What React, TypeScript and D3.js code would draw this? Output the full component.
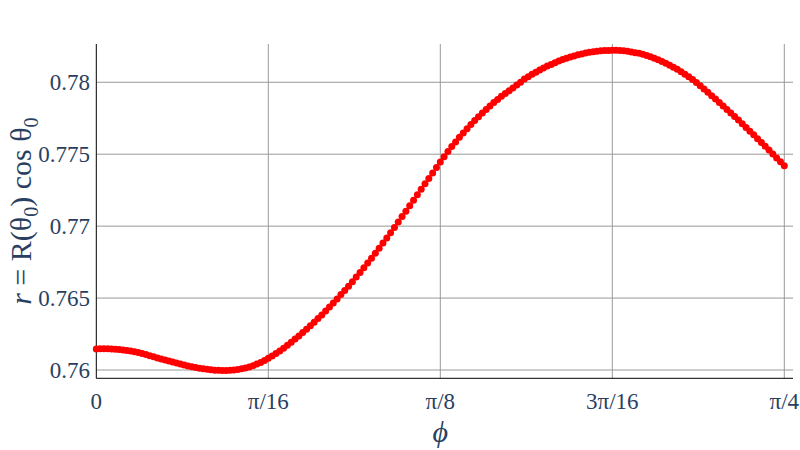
import React from "react";
import * as d3 from "d3";

// phi sampled every 0.25 degrees from 0 to 45 degrees (0 .. pi/4)
const PHI_STEP_DEG = 0.25;

// r = R(theta0) cos theta0
const rValues = [
  0.76146, 0.76147, 0.76147, 0.76147, 0.76146, 0.76144, 0.76142, 0.76139, 0.76136, 0.76132,
  0.76127, 0.76122, 0.76115, 0.76107, 0.76099, 0.76092, 0.76084, 0.76076, 0.76069, 0.76062,
  0.76055, 0.76048, 0.76041, 0.76035, 0.76028, 0.76023, 0.76017, 0.76013, 0.76008, 0.76005,
  0.76001, 0.75999, 0.75998, 0.75997, 0.75997, 0.75998, 0.76, 0.76003, 0.76008, 0.76014,
  0.76021, 0.7603, 0.76041, 0.76053, 0.76066, 0.76081, 0.76097, 0.76114, 0.76132, 0.76152,
  0.76172, 0.76193, 0.76215, 0.76237, 0.7626, 0.76283, 0.76307, 0.76332, 0.76358, 0.76383,
  0.7641, 0.76438, 0.76465, 0.76494, 0.76524, 0.76553, 0.76583, 0.76614, 0.76647, 0.76678,
  0.76711, 0.76744, 0.76777, 0.76812, 0.76847, 0.76882, 0.76918, 0.76954, 0.76991, 0.77028,
  0.77067, 0.77104, 0.77142, 0.7718, 0.77218, 0.77256, 0.77294, 0.77332, 0.7737, 0.77408,
  0.77446, 0.77483, 0.77519, 0.77553, 0.77585, 0.77617, 0.77647, 0.77677, 0.77706, 0.77734,
  0.7776, 0.77786, 0.77811, 0.77835, 0.77859, 0.77881, 0.77902, 0.77922, 0.77941, 0.7796,
  0.77981, 0.78, 0.78022, 0.78039, 0.78055, 0.7807, 0.78085, 0.78099, 0.78113, 0.78124,
  0.78136, 0.78147, 0.78158, 0.78167, 0.78176, 0.78183, 0.78191, 0.78197, 0.78203, 0.78208,
  0.78213, 0.78216, 0.78219, 0.7822, 0.78221, 0.78222, 0.78222, 0.78221, 0.78219, 0.78215,
  0.78211, 0.78206, 0.78201, 0.78194, 0.78186, 0.78177, 0.78167, 0.78157, 0.78145, 0.78133,
  0.78119, 0.78105, 0.7809, 0.78073, 0.78056, 0.78038, 0.78019, 0.77999, 0.77976, 0.77953,
  0.7793, 0.77907, 0.77883, 0.7786, 0.77835, 0.7781, 0.77786, 0.77762, 0.77737, 0.77712,
  0.77686, 0.7766, 0.77635, 0.77608, 0.77582, 0.77556, 0.77529, 0.77501, 0.77474, 0.77447,
  0.77419,
];

const xTickValues = [0, Math.PI / 16, Math.PI / 8, (3 * Math.PI) / 16, Math.PI / 4];
const xTickLabels = ["0", "π/16", "π/8", "3π/16", "π/4"];
const yTickValues = [0.76, 0.765, 0.77, 0.775, 0.78];
const yTickLabels = ["0.76", "0.765", "0.77", "0.775", "0.78"];

const FONT = "'Liberation Serif', 'Times New Roman', serif";
const TEXT_COLOR = "#2a3f5f";
const GRID_COLOR = "#999999";

export default function App() {
  const W = 800;
  const H = 450;
  const left = 96.3;
  const right = 793;
  const top = 44;
  const bottom = 378.3;

  const x = d3
    .scaleLinear()
    .domain([0, (Math.PI / 4) * 1.012645])
    .range([left, right]);
  const y = d3.scaleLinear().domain([0.759424, 0.78266]).range([bottom, top]);

  const points = rValues.map((r, i) => ({
    phi: ((i * PHI_STEP_DEG) * Math.PI) / 180,
    r,
  }));

  return (
    <svg
      width={W}
      height={H}
      style={{ position: "absolute", left: 0, top: 0, background: "#fff" }}
    >
      {/* grid */}
      {yTickValues.map((v, i) => (
        <line
          key={"gy" + i}
          x1={left}
          x2={right}
          y1={y(v)}
          y2={y(v)}
          stroke={GRID_COLOR}
          strokeWidth={1}
        />
      ))}
      {xTickValues.slice(1).map((v, i) => (
        <line
          key={"gx" + i}
          x1={x(v)}
          x2={x(v)}
          y1={top}
          y2={bottom}
          stroke={GRID_COLOR}
          strokeWidth={1}
        />
      ))}

      {/* axis lines */}
      <line x1={left} x2={left} y1={top} y2={bottom} stroke="#000" strokeWidth={1} />
      <line x1={left} x2={right} y1={bottom} y2={bottom} stroke="#000" strokeWidth={1} />

      {/* points */}
      {points.map((p, i) => (
        <circle key={"p" + i} cx={x(p.phi)} cy={y(p.r)} r={3.5} fill="#ff0000" />
      ))}

      {/* y tick labels */}
      {yTickValues.map((v, i) => (
        <text
          key={"ty" + i}
          x={90}
          y={y(v)}
          dy="0.35em"
          textAnchor="end"
          fontFamily={FONT}
          fontSize={23}
          fill={TEXT_COLOR}
        >
          {yTickLabels[i]}
        </text>
      ))}

      {/* x tick labels */}
      {xTickValues.map((v, i) => (
        <text
          key={"tx" + i}
          x={x(v)}
          y={409}
          textAnchor="middle"
          fontFamily={FONT}
          fontSize={23}
          fill={TEXT_COLOR}
        >
          {xTickLabels[i]}
        </text>
      ))}

      {/* x axis title */}
      <text
        x={x(Math.PI / 8)}
        y={442}
        textAnchor="middle"
        fontFamily={FONT}
        fontSize={30}
        fontStyle="italic"
        fill={TEXT_COLOR}
      >
        ϕ
      </text>

      {/* y axis title */}
      <text
        transform={`translate(31, ${(top + bottom) / 2}) rotate(-90)`}
        textAnchor="middle"
        fontFamily={FONT}
        fontSize={30}
        fill={TEXT_COLOR}
      >
        <tspan fontStyle="italic">r</tspan>
        <tspan> = R(θ</tspan>
        <tspan fontSize={20} dy={7}>0</tspan>
        <tspan dy={-7}>) cos θ</tspan>
        <tspan fontSize={20} dy={7}>0</tspan>
      </text>
    </svg>
  );
}
